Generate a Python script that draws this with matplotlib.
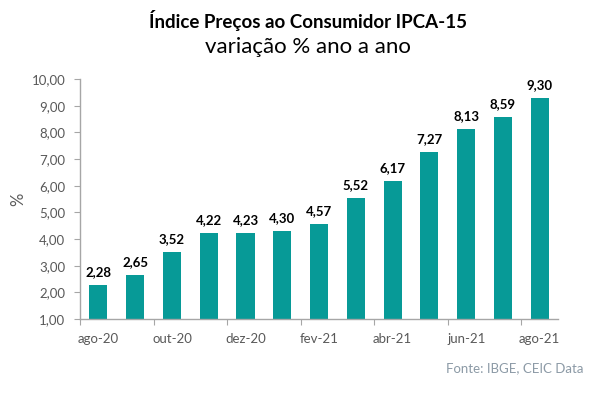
import matplotlib
matplotlib.use("Agg")
import matplotlib.pyplot as plt
import numpy as np

plt.rcParams['font.family'] = ['Lato', 'DejaVu Sans']

months = ["ago-20", "set-20", "out-20", "nov-20", "dez-20", "jan-21", "fev-21",
          "mar-21", "abr-21", "mai-21", "jun-21", "jul-21", "ago-21"]
values = [2.28, 2.65, 3.52, 4.22, 4.23, 4.30, 4.57, 5.52, 6.17, 7.27, 8.13, 8.59, 9.30]
yticks = [1, 2, 3, 4, 5, 6, 7, 8, 9, 10]

bar_color = "#079A97"
gray = "#595959"

fig = plt.figure(figsize=(6.13, 3.98), dpi=100)
ax = fig.add_axes([0.1305, 0.1985, 0.780, 0.603])

x = np.arange(len(values))
ax.bar(x, values, width=0.49, color=bar_color, bottom=0)
for xi, v in zip(x, values):
    ax.annotate(f"{v:.2f}".replace(".", ","), (xi, v), xytext=(0, 5),
                textcoords="offset points", ha="center", va="bottom",
                fontsize=9.5, fontweight="bold", color="black")

ax.set_xlim(-0.5, len(values) - 0.5)
ax.set_ylim(1, 10)
ax.set_yticks(yticks)
ax.set_yticklabels([f"{t:.2f}".replace(".", ",") for t in yticks])

# tick marks at category boundaries, labels at every second bar center
ax.set_xticks(np.arange(-0.5, len(values), 2))
ax.set_xticklabels([])
ax.set_xticks(x[::2], minor=True)
ax.set_xticklabels([months[i] for i in x[::2]], minor=True)
ax.tick_params(axis="x", which="minor", length=0, pad=10, labelsize=9.5, labelcolor=gray)
ax.tick_params(axis="x", which="major", length=4, color="#A6A6A6", direction="out")
ax.tick_params(axis="y", length=4, color="#A6A6A6", labelsize=9.5, labelcolor=gray, pad=6.5)

for s in ["top", "right"]:
    ax.spines[s].set_visible(False)
for s in ["left", "bottom"]:
    ax.spines[s].set_color("#A6A6A6")
    ax.spines[s].set_linewidth(1)

fig.text(0.029, 0.50, "%", rotation=90, ha="center", va="center", fontsize=12, color=gray)

fig.text(0.502, 0.948, "Índice Preços ao Consumidor IPCA-15", ha="center", va="center",
         fontsize=13.5, fontweight="bold", color="black")
fig.text(0.502, 0.882, "variação % ano a ano", ha="center", va="center",
         fontsize=16, color="black")
fig.text(0.952, 0.075, "Fonte: IBGE, CEIC Data", ha="right", va="center",
         fontsize=9.5, color="#8C9AA6")

fig.savefig("out.png", dpi=100)
